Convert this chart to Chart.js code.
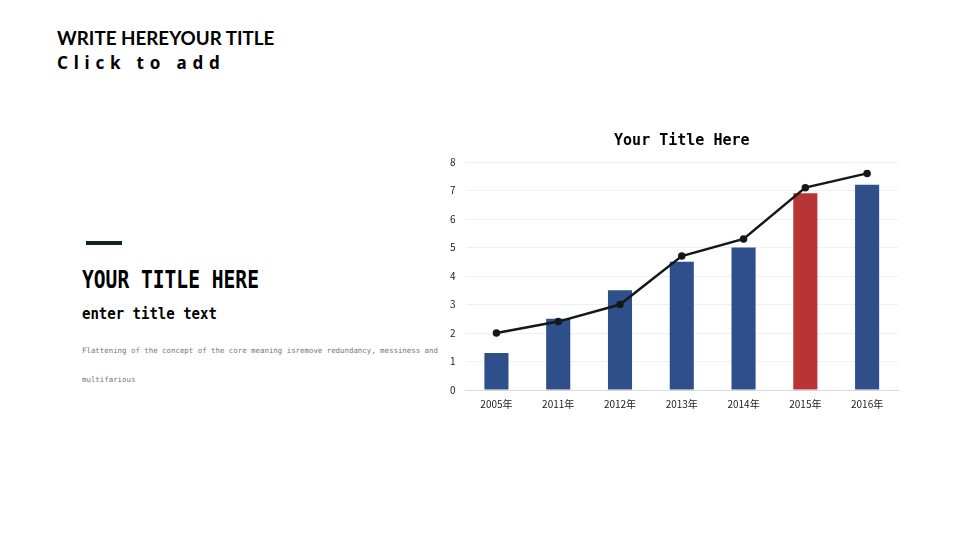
<!DOCTYPE html>
<html>
<head>
<meta charset="utf-8">
<script src="https://cdn.jsdelivr.net/npm/chart.js@4/dist/chart.umd.min.js"></script>
<style>
  html, body { margin: 0; padding: 0; background: #fff; }
  body { width: 960px; height: 540px; position: relative; overflow: hidden; }
  .head1 { position: absolute; left: 57px; top: 26px; font: 700 18.8px Lato, "Noto Sans", sans-serif; color: #000; white-space: nowrap; }
  .head2 { position: absolute; left: 57px; top: 51px; font: 700 17px "Noto Sans", sans-serif; letter-spacing: 5.8px; color: #000; white-space: nowrap; }
  .dash { position: absolute; left: 86px; top: 241px; width: 36px; height: 4px; background: #14221f; }
  .big { position: absolute; left: 82px; top: 265px; font: 700 19.6px "DejaVu Sans Mono", monospace; color: #000; white-space: nowrap; transform: scaleY(1.25); transform-origin: left top; }
  .sub { position: absolute; left: 82px; top: 304px; font: 700 14px "DejaVu Sans Mono", monospace; color: #000; white-space: nowrap; transform: scaleY(1.15); transform-origin: left top; }
  .para { position: absolute; left: 82px; top: 336px; width: 380px; font: 400 7.4px "DejaVu Sans Mono", monospace; line-height: 29px; color: #777; }
  #wrap { position: absolute; left: 440px; top: 120px; width: 470px; height: 290px; }
</style>
</head>
<body>
<div class="head1">WRITE HEREYOUR TITLE</div>
<div class="head2">Click to add</div>
<div class="dash"></div>
<div class="big">YOUR TITLE HERE</div>
<div class="sub">enter title text</div>
<div class="para">Flattening of the concept of the core meaning isremove redundancy, messiness and multifarious</div>
<div id="wrap"><canvas id="grafico"></canvas></div>
<script>
// ===== dados do gráfico =====
const anos = ['2005年', '2011年', '2012年', '2013年', '2014年', '2015年', '2016年'];
const barras = [1.3, 2.5, 3.5, 4.5, 5.0, 6.9, 7.2];
const linha = [2.0, 2.4, 3.0, 4.7, 5.3, 7.1, 7.6];
const eixoY = [0, 1, 2, 3, 4, 5, 6, 7, 8];

// a barra de 2015 fica em vermelho
const coresBarras = anos.map((a, i) => i === 5 ? '#b83535' : '#2f4f8b');

const ctx = document.getElementById('grafico').getContext('2d');
const grafico = new Chart(ctx, {
    type: 'bar',
    data: {
        labels: anos,
        datasets: [{
            type: 'line',
            data: linha,
            borderColor: '#111a17',
            backgroundColor: '#111a17',
            borderWidth: 2.5,
            pointRadius: 2.5,
            pointBackgroundColor: '#111a17',
            tension: 0,
            order: 0
        }, {
            type: 'bar',
            data: barras,
            backgroundColor: coresBarras,
            barPercentage: 0.39,
            categoryPercentage: 1,
            order: 1
        }]
    },
    options: {
        responsive: true,
        maintainAspectRatio: false,
        animation: false,
        layout: { padding: { left: 0, right: 12, top: 0, bottom: 0 } },
        plugins: {
            legend: { display: false },
            tooltip: { enabled: false },
            title: {
                display: true,
                fullSize: false,
                text: 'Your Title Here',
                color: '#000',
                font: { family: 'DejaVu Sans Mono', size: 15, weight: 'bold' },
                padding: { top: 12, bottom: 12 }
            }
        },
        scales: {
            x: {
                grid: { display: false },
                border: { color: '#d9d9d9' },
                ticks: { color: '#222', font: { family: 'Noto Sans CJK SC', size: 10 }, padding: 0 }
            },
            y: {
                min: 0,
                max: 8,
                afterBuildTicks: s => { s.ticks = eixoY.map(v => ({ value: v })); },
                grid: { color: '#f0f0f0', drawTicks: false },
                border: { display: false },
                ticks: { color: '#222', font: { family: 'Noto Sans CJK SC', size: 10 }, padding: 10 }
            }
        }
    }
});
</script>
</body>
</html>
